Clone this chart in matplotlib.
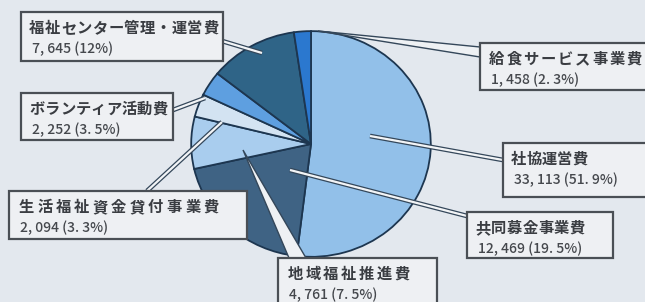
import matplotlib.pyplot as plt
from matplotlib.patches import Rectangle, Polygon

plt.rcParams["font.family"] = ["Noto Sans CJK JP", "DejaVu Sans"]

# clockwise from 12 o'clock
labels = ["社協運営費", "共同募金事業費", "地域福祉推進費", "生活福祉資金貸付事業費",
          "ボランティア活動費", "福祉センター管理・運営費", "給食サービス事業費"]
values = [33113, 12469, 4761, 2094, 2252, 7645, 1458]
pcts = ["51.9", "19.5", "7.5", "3.3", "3.5", "12", "2.3"]
colors = ["#92c0e9", "#3f6384", "#a9cdee", "#d3e3f2", "#5e9fe0", "#2f6487", "#2b78cf"]

# label boxes in pixels: x0, y0, x1, y1, char pitch
boxes = [(503, 143, 650, 197, 15.3), (467, 212, 613, 258, 15.7), (278, 258, 437, 312, 17.9),
         (9, 191, 247, 239, 18.5), (21, 93, 173, 140, 15.4), (21, 12, 223, 61, 15.8),
         (480, 43, 650, 90, 17.2)]

W, H = 645, 302
bg = "#e3e8ee"
edge = "#1d3650"
fig = plt.figure(figsize=(W / 100, H / 100), dpi=100, facecolor=bg)

# pie, slightly elliptical
cx, cy, rx, ry = 311, 144, 121, 114
pax = fig.add_axes([(cx - rx) / W, (H - cy - ry) / H, 2 * rx / W, 2 * ry / H])
pax.pie(values, colors=colors, startangle=90, counterclock=False, radius=1,
        wedgeprops=dict(edgecolor=edge, linewidth=1.3))
pax.set_aspect("auto")
pax.set_xlim(-1.01, 1.01)
pax.set_ylim(-1.01, 1.01)
pax.axis("off")

ax = fig.add_axes([0, 0, 1, 1])
ax.set_xlim(0, W)
ax.set_ylim(H, 0)
ax.axis("off")
ax.patch.set_alpha(0)

# leader lines (white with dark outline)
leaders = [((503, 160), (370, 136)), ((467, 216), (290, 170)), None,
           ((147, 191), (222, 122)), ((173, 110), (205, 98)), ((222, 41), (262, 53)), None]
for seg in leaders:
    if seg is None:
        continue
    (x0, y0), (x1, y1) = seg
    ax.plot([x0, x1], [y0, y1], color="#34475a", lw=3.4, solid_capstyle="butt", zorder=3)
    ax.plot([x0, x1], [y0, y1], color="#f2f4f6", lw=1.6, solid_capstyle="butt", zorder=4)

# wedge-shaped leaders
ax.add_patch(Polygon([(243, 150), (289, 258), (306, 258)], closed=True,
                     facecolor="#eef1f4", edgecolor="#34475a", lw=1.0, zorder=3))
ax.add_patch(Polygon([(318, 31), (480, 47), (480, 57)], closed=True,
                     facecolor="#eef1f4", edgecolor="#34475a", lw=1.0, zorder=3))

for lab, val, pct, (x0, y0, x1, y1, pitch) in zip(labels, values, pcts, boxes):
    ax.add_patch(Rectangle((x0, y0), x1 - x0, y1 - y0, facecolor="#eef0f3",
                           edgecolor="#4a4f55", lw=1.6, zorder=5))
    for i, ch in enumerate(lab):
        ax.text(x0 + 8 + i * pitch + pitch / 2, y0 + 16, ch, ha="center", va="center",
                fontsize=11, fontweight="bold", color="#3a3d42", zorder=6)
    num = f"{val:,}".replace(",", ", ") + " (" + pct.replace(".", ". ") + "%)"
    ax.text(x0 + 11, y0 + 37, num, ha="left", va="center",
            fontsize=10, fontweight="medium", color="#45484d", zorder=6)

fig.savefig("out.png", dpi=100, facecolor=bg)
